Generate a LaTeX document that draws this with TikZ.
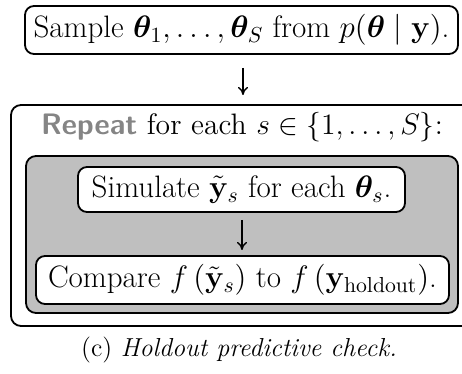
\RequirePackage{fix-cm}
\documentclass[tikz,border=0pt]{standalone}
\usepackage{amsmath,bm}
\usetikzlibrary{arrows.meta}
\begin{document}
\begin{tikzpicture}[x=0.5pt,y=-0.5pt,
  every node/.style={inner sep=0pt,outer sep=0pt},
  stepbox/.style={draw,line width=0.9pt,rounded corners=4.5pt,fill=white,font=\fontsize{15.5}{18}\selectfont},
  framebox/.style={draw,line width=0.9pt,rounded corners=5pt},
  flow/.style={-{To[length=4pt,width=5pt]},line width=0.7pt}]
\useasboundingbox (0,0) rectangle (462,374);
% outer repeat frame (runs past the right edge)
\node[minimum width=300pt,minimum height=110.5pt,anchor=north west] (outer) at (11,105) {};
\draw[framebox] (outer.north east) -| (outer.south west) -- (outer.south east);
\node[font=\fontsize{14.8}{18}\selectfont] (rep) at (242,127) {\textsf{\textbf{\color{black!48}Repeat}} for each $s\in\{1,\dots,S\}$:};
% gray inner frame
\node[framebox,fill=black!25,minimum width=216pt,minimum height=78.5pt,anchor=north west] (inner) at (26,156) {};
% step boxes
\node[stepbox,minimum width=216.5pt,minimum height=24pt] (sample) at (241.5,30) {Sample $\bm{\theta}_1,\dots,\bm{\theta}_S$ from $p(\bm{\theta}\mid\mathbf{y})$.};
\node[stepbox,minimum width=163.5pt,minimum height=22.5pt] (sim) at (241.5,189.5) {Simulate $\tilde{\mathbf{y}}_s$ for each $\bm{\theta}_s$.};
\node[stepbox,minimum width=206.5pt,minimum height=24pt] (cmp) at (242.5,280) {Compare $f\left(\tilde{\mathbf{y}}_s\right)$ to $f\left(\mathbf{y}_{\text{holdout}}\right)$.};
\draw[flow,shorten <=7pt,shorten >=5pt] (sample.south -| 243,0) -- (outer.north -| 243,0);
\draw[flow,shorten <=4pt,shorten >=3pt] (sim.south -| 242,0) -- (cmp.north -| 242,0);
% caption
\node[font=\fontsize{13}{16}\selectfont] (cap) at (239,350) {(c) \textit{Holdout predictive check.}};
\end{tikzpicture}
\end{document}
